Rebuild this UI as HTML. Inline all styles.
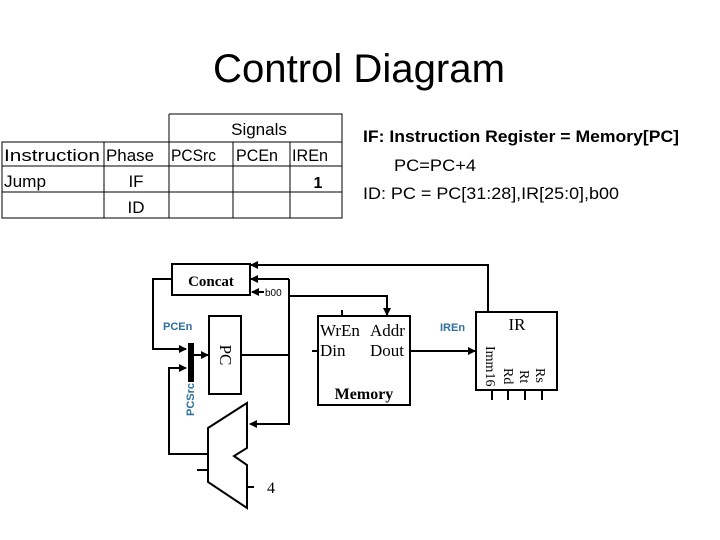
<!DOCTYPE html>
<html><head><meta charset="utf-8"><style>
html,body{margin:0;padding:0;background:#fff;}
svg{display:block;}
</style></head><body>
<svg width="720" height="540" viewBox="0 0 720 540" xmlns="http://www.w3.org/2000/svg">
<defs>
<marker id="ar" markerWidth="8" markerHeight="8" refX="7" refY="4" orient="auto" markerUnits="userSpaceOnUse">
<path d="M0,0 L8,4 L0,8 z" fill="#000"/></marker>
</defs>
<text x="359" y="82" font-family="Liberation Sans, sans-serif" font-size="40" text-anchor="middle" textLength="292" lengthAdjust="spacingAndGlyphs">Control Diagram</text>

<!-- table -->
<g stroke="#000" stroke-width="1" fill="none">
<path d="M169,114 H342 V218 H2 V142 H342"/>
<line x1="2" y1="166" x2="342" y2="166"/>
<line x1="2" y1="192" x2="342" y2="192"/>
<line x1="104" y1="142" x2="104" y2="218"/>
<line x1="169" y1="114" x2="169" y2="218"/>
<line x1="233" y1="142" x2="233" y2="218"/>
<line x1="290" y1="142" x2="290" y2="218"/>
</g>
<g font-family="Liberation Sans, sans-serif" font-size="17">
<text x="259" y="135" text-anchor="middle">Signals</text>
<text x="4" y="161" textLength="96" lengthAdjust="spacingAndGlyphs">Instruction</text>
<text x="106" y="161" textLength="48" lengthAdjust="spacingAndGlyphs">Phase</text>
<text x="171" y="161" textLength="45" lengthAdjust="spacingAndGlyphs">PCSrc</text>
<text x="236" y="161" textLength="42" lengthAdjust="spacingAndGlyphs">PCEn</text>
<text x="292" y="161" textLength="36" lengthAdjust="spacingAndGlyphs">IREn</text>
<text x="4" y="187" textLength="42" lengthAdjust="spacingAndGlyphs">Jump</text>
<text x="136" y="187" text-anchor="middle">IF</text>
<text x="318" y="188" text-anchor="middle" font-weight="bold" font-size="16">1</text>
<text x="136" y="213" text-anchor="middle">ID</text>
</g>

<!-- right text -->
<g font-family="Liberation Sans, sans-serif" font-size="17">
<text x="363" y="142" font-weight="bold" textLength="316" lengthAdjust="spacingAndGlyphs">IF: Instruction Register = Memory[PC]</text>
<text x="394" y="171" textLength="82" lengthAdjust="spacingAndGlyphs">PC=PC+4</text>
<text x="363" y="199" textLength="256" lengthAdjust="spacingAndGlyphs">ID: PC = PC[31:28],IR[25:0],b00</text>
</g>

<!-- diagram -->
<g stroke="#000" stroke-width="2" fill="none">
<rect x="172" y="264" width="78" height="31" fill="#fff"/>
<rect x="209" y="316" width="32" height="78"/>
<rect x="318" y="316" width="92" height="89"/>
<rect x="476" y="312" width="81" height="78"/>
<polygon points="208,428 247,403 247,448 234,456 247,465 247,508 208,482"/>
<!-- IR to concat -->
<polyline points="488,311 488,265 251,265" marker-end="url(#ar)"/>
<!-- PC out -->
<line x1="241" y1="355" x2="289" y2="355"/>
<polyline points="289,279 289,424 250,424" marker-end="url(#ar)"/>
<line x1="289" y1="279" x2="251" y2="279" marker-end="url(#ar)"/>
<line x1="264" y1="292" x2="252" y2="292" marker-end="url(#ar)"/>
<polyline points="289,296 387,296 387,315" marker-end="url(#ar)"/>
<!-- WrEn / Din ticks -->
<line x1="342" y1="310" x2="342" y2="316"/>
<line x1="312" y1="351" x2="318" y2="351"/>
<!-- Dout -->
<line x1="410" y1="351" x2="475" y2="351" marker-end="url(#ar)"/>
<!-- IR ticks -->
<line x1="492" y1="390" x2="492" y2="400"/>
<line x1="508" y1="390" x2="508" y2="400"/>
<line x1="525" y1="390" x2="525" y2="400"/>
<line x1="542" y1="390" x2="542" y2="400"/>
<!-- loops -->
<polyline points="172,279 153,279 153,349 186,349" marker-end="url(#ar)"/>
<polyline points="208,454 169,454 169,368 186,368" marker-end="url(#ar)"/>
<line x1="194" y1="355" x2="208" y2="355" marker-end="url(#ar)"/>
<line x1="197" y1="470" x2="208" y2="470"/>
<line x1="247" y1="487" x2="254" y2="487"/>
</g>
<rect x="188" y="343" width="6" height="39" fill="#000"/>

<g font-family="Liberation Serif, serif">
<text x="211" y="286" text-anchor="middle" font-size="15" font-weight="bold">Concat</text>
<text x="265" y="296" font-family="Liberation Sans, sans-serif" font-size="10">b00</text>
<text x="226" y="355" text-anchor="middle" font-size="17" transform="rotate(90 226 355)" dy="6">PC</text>
<text x="320" y="336" font-size="17">WrEn</text>
<text x="370" y="336" font-size="17">Addr</text>
<text x="320" y="356" font-size="17">Din</text>
<text x="370" y="356" font-size="17">Dout</text>
<text x="364" y="399" text-anchor="middle" font-size="16" font-weight="bold">Memory</text>
<text x="517" y="330" text-anchor="middle" font-size="17">IR</text>
<text x="271" y="493" text-anchor="middle" font-size="16">4</text>
<text transform="translate(486,346) rotate(90)" font-size="14">Imm16</text>
<text transform="translate(504,368) rotate(90)" font-size="14">Rd</text>
<text transform="translate(520,370) rotate(90)" font-size="14">Rt</text>
<text transform="translate(536,368) rotate(90)" font-size="14">Rs</text>
</g>
<g font-family="Liberation Sans, sans-serif" font-size="11" font-weight="bold" fill="#2e6f9e">
<text x="163" y="330">PCEn</text>
<text x="440" y="331">IREn</text>
<text transform="translate(194,416) rotate(-90)">PCSrc</text>
</g>
</svg>
</body></html>
